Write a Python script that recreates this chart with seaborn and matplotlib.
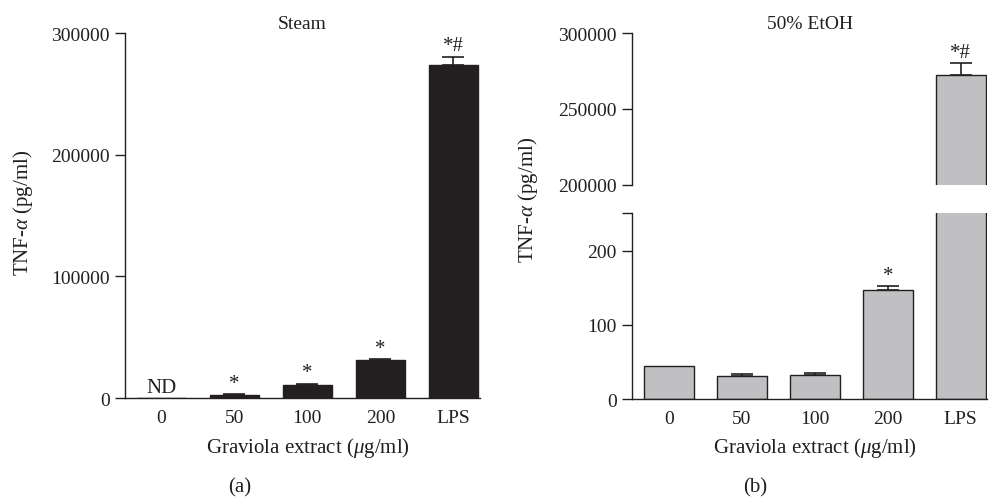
import numpy as np
import seaborn as sns
import matplotlib
matplotlib.use('Agg')
from matplotlib import pyplot as plt

# Data
categories = ['0', '50', '100', '200', 'LPS']
steam_values = [0, 2700, 11000, 31500, 273500]
steam_errors = [0, 500, 800, 700, 7000]
steam_marks = ['ND', '*', '*', '*', '*#']
etoh_values = [44.7, 31.3, 32.2, 146.7, 272300]
etoh_errors = [0, 3.0, 2.5, 5.0, 8000]
etoh_marks = ['', '', '', '*', '*#']

sns.set_style('white')
plt.rcParams['font.family'] = ['Liberation Serif', 'DejaVu Serif']
plt.rcParams['mathtext.fontset'] = 'custom'
plt.rcParams['mathtext.rm'] = 'Liberation Serif'
plt.rcParams['mathtext.it'] = 'Liberation Serif:italic'

ink = '#231f20'
fs = 14

fig = plt.figure(figsize=(9.91, 5.02), dpi=100)
ax_a = fig.add_axes([0.126, 0.205, 0.358, 0.727])
ax_bt = fig.add_axes([0.638, 0.630, 0.358, 0.302])
ax_bb = fig.add_axes([0.638, 0.203, 0.358, 0.370])


def style_axis(ax):
    for side in ['top', 'right']:
        ax.spines[side].set_visible(False)
    for side in ['left', 'bottom']:
        ax.spines[side].set_color(ink)
        ax.spines[side].set_linewidth(1.0)
    ax.tick_params(axis='y', direction='out', length=7, width=1.0, color=ink,
                   labelsize=fs, labelcolor=ink, left=True, pad=4)
    ax.tick_params(axis='x', length=0, labelsize=fs, labelcolor=ink, pad=8)
    ax.set_xlabel('')
    ax.set_ylabel('')


def draw_bars(ax, values, errors, color, edge):
    sns.barplot(x=categories, y=values, color=color, edgecolor=edge,
                linewidth=1.0, width=0.68, ax=ax, saturation=1)
    idx = [i for i, e in enumerate(errors) if e > 0]
    ax.errorbar(idx, [values[i] for i in idx],
                yerr=[np.zeros(len(idx)), [errors[i] for i in idx]], fmt='none',
                ecolor=ink, elinewidth=1.2, capsize=8, capthick=1.2)
    ax.set_xlim(-0.5, 4.36)


def add_marks(ax, values, errors, marks, lo, hi):
    for i, (v, e, m) in enumerate(zip(values, errors, marks)):
        if not m:
            continue
        top = v + e
        if top < lo or top > hi:
            continue
        ax.annotate(m, (i, top), xytext=(0, 1), textcoords='offset points',
                    ha='center', va='bottom', fontsize=fs + 1, color=ink)


# (a) Steam
draw_bars(ax_a, steam_values, steam_errors, ink, ink)
ax_a.set_ylim(0, 300000)
ax_a.set_yticks([0, 100000, 200000, 300000])
style_axis(ax_a)
add_marks(ax_a, steam_values, steam_errors, steam_marks, -1, 1e9)
ax_a.set_title('Steam', fontsize=fs, color=ink, pad=4)

# (b) 50% EtOH, broken axis
draw_bars(ax_bt, etoh_values, etoh_errors, '#c0c0c3', ink)
ax_bt.set_ylim(200000, 300000)
ax_bt.set_yticks([200000, 250000, 300000])
style_axis(ax_bt)
ax_bt.spines['bottom'].set_visible(False)
ax_bt.set_xticks([])
add_marks(ax_bt, etoh_values, etoh_errors, etoh_marks, 200000, 300000)
ax_bt.set_title('50% EtOH', fontsize=fs, color=ink, pad=4)

draw_bars(ax_bb, etoh_values, etoh_errors, '#c0c0c3', ink)
ax_bb.set_ylim(0, 250)
style_axis(ax_bb)
add_marks(ax_bb, etoh_values, etoh_errors, etoh_marks, 0, 250)
ax_bb.set_yticks([0, 100, 200, 250])
ax_bb.set_yticklabels(['0', '100', '200', ''])

# shared texts
ylab = 'TNF-$\\alpha$ (pg/ml)'
xlab = 'Graviola extract ($\\mu$g/ml)'
fig.text(23 / 991, 1 - 213 / 502, ylab, rotation=90, ha='center', va='center',
         fontsize=fs + 1, color=ink)
fig.text(528 / 991, 1 - 200 / 502, ylab, rotation=90, ha='center', va='center',
         fontsize=fs + 1, color=ink)
fig.text(308 / 991, 1 - 448 / 502, xlab, ha='center', va='center',
         fontsize=fs + 1, color=ink)
fig.text(815 / 991, 1 - 448 / 502, xlab, ha='center', va='center',
         fontsize=fs + 1, color=ink)
fig.text(240 / 991, 1 - 488 / 502, '(a)', ha='center', va='center',
         fontsize=fs + 1, color=ink)
fig.text(755 / 991, 1 - 488 / 502, '(b)', ha='center', va='center',
         fontsize=fs + 1, color=ink)

fig.savefig('out.png', dpi=100)
